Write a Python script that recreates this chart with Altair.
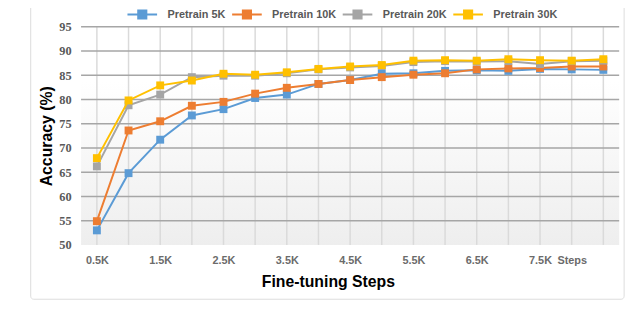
import altair as alt
import pandas as pd

steps = [0.5, 1.0, 1.5, 2.0, 2.5, 3.0, 3.5, 4.0, 4.5, 5.0, 5.5, 6.0, 6.5, 7.0, 7.5, 8.0, 8.5]
series_names = ["Pretrain 5K", "Pretrain 10K", "Pretrain 20K", "Pretrain 30K"]
acc_5k = [53.0, 64.8, 71.7, 76.7, 78.0, 80.3, 81.0, 83.2, 84.0, 85.3, 85.4, 85.9, 86.0, 85.9, 86.3, 86.2, 86.1]
acc_10k = [54.9, 73.6, 75.5, 78.7, 79.5, 81.2, 82.4, 83.2, 84.0, 84.6, 85.1, 85.4, 86.2, 86.4, 86.5, 86.8, 86.8]
acc_20k = [66.2, 78.8, 81.0, 84.6, 84.9, 84.9, 85.4, 86.2, 86.6, 86.9, 87.7, 87.9, 87.8, 87.9, 87.3, 87.9, 88.0]
acc_30k = [67.9, 79.8, 82.9, 83.9, 85.3, 85.1, 85.6, 86.3, 86.8, 87.1, 88.0, 88.1, 88.0, 88.3, 88.1, 88.0, 88.3]
colors = ["#5B9BD5", "#ED7D31", "#A5A5A5", "#FFC000"]
y_ticks = [50, 55, 60, 65, 70, 75, 80, 85, 90, 95]
y_grid = [55, 60, 65, 70, 75, 80, 85, 90, 95]

rows = []
for name, vals in zip(series_names, [acc_5k, acc_10k, acc_20k, acc_30k]):
    for s, v in zip(steps, vals):
        rows.append({"step": s, "acc": v, "series": name})
df = pd.DataFrame(rows)

W, H = 545, 221
xscale = alt.Scale(domain=[0.25, 8.75], nice=False, zero=False)
yscale = alt.Scale(domain=[50, 95], nice=False, zero=False)
XT = "Fine-tuning Steps"
YT = "Accuracy (%)"

label_expr = ("datum.value == 8 ? 'Steps' : "
              "((datum.value * 2) % 2 == 1 && datum.value < 8 ? datum.label + 'K' : '')")

x_axis = alt.Axis(values=steps, grid=False, ticks=False, domain=False, format=".1f",
                  labelExpr=label_expr, labelOverlap=False, labelFont="Liberation Sans", labelFontSize=11,
                  labelFontWeight="bold", labelColor="#6b6b6b", labelPadding=10,
                  titleFont="Liberation Sans", titleFontSize=16, titleFontWeight="bold",
                  titleColor="#000000", titleX=250, titleY=37, titleBaseline="middle")
y_axis = alt.Axis(values=y_ticks, grid=False, ticks=False, domain=False, labelOverlap=False,
                  labelFont="Liberation Serif", labelFontSize=12.5, labelFontWeight="bold",
                  labelColor="#595959", labelPadding=10,
                  titleFont="Liberation Sans", titleFontSize=16, titleFontWeight="bold",
                  titleColor="#000000", titlePadding=4)

one = pd.DataFrame({"a": [0]})

frame = alt.Chart(one).mark_rect(fill="white", fillOpacity=0, stroke="#dcdcdc", strokeWidth=1, cornerRadius=3).encode(
    x=alt.value(-51), x2=alt.value(550), y=alt.value(-23), y2=alt.value(276)
)

bg = alt.Chart(one).mark_rect(
    color=alt.LinearGradient(
        gradient="linear",
        stops=[alt.GradientStop(color="#ffffff", offset=0),
               alt.GradientStop(color="#ffffff", offset=0.25),
               alt.GradientStop(color="#eeeeee", offset=1)],
        x1=0, x2=0, y1=0, y2=1,
    )
).encode(x=alt.value(0), x2=alt.value("width"), y=alt.value(0), y2=alt.value("height"))

vgrid = alt.Chart(pd.DataFrame({"step": steps})).mark_rule(color="#dadada", strokeWidth=1.5).encode(
    x=alt.X("step:Q", scale=xscale, axis=x_axis, title=XT)
)
hgrid = alt.Chart(pd.DataFrame({"acc": y_grid})).mark_rule(color="#a6a6a6", strokeWidth=1.5).encode(
    y=alt.Y("acc:Q", scale=yscale, axis=y_axis, title=YT)
)

legend = alt.Legend(orient="none", legendX=46, legendY=-21, direction="horizontal", title=None,
                    symbolType="M-2,0H2M-0.55,-0.55H0.55V0.55H-0.55Z", symbolSize=225,
                    symbolOffset=7.5, symbolStrokeWidth=2, labelFont="Liberation Sans", labelFontSize=11,
                    labelFontWeight="bold", labelColor="#595959", columnPadding=2, labelOffset=17)

layers = [frame, bg, vgrid, hgrid]
for name in series_names:
    sub = df[df["series"] == name]
    base = alt.Chart(sub).encode(
        x=alt.X("step:Q", scale=xscale, axis=x_axis, title=XT),
        y=alt.Y("acc:Q", scale=yscale, axis=y_axis, title=YT),
        color=alt.Color("series:N", scale=alt.Scale(domain=series_names, range=colors), legend=legend),
        order=alt.Order("step:Q"),
    )
    layers.append(base.mark_line(strokeWidth=2))
    layers.append(base.mark_point(shape="square", filled=True, size=64, opacity=1))

chart = alt.layer(*layers).properties(
    width=W, height=H,
    autosize=alt.AutoSizeParams(type="none"),
    padding={"left": 74, "top": 17, "right": 13, "bottom": 67},
    background="white",
).configure_view(stroke=None)

chart.save("out.html", embed_options={"renderer": "svg", "actions": False})
